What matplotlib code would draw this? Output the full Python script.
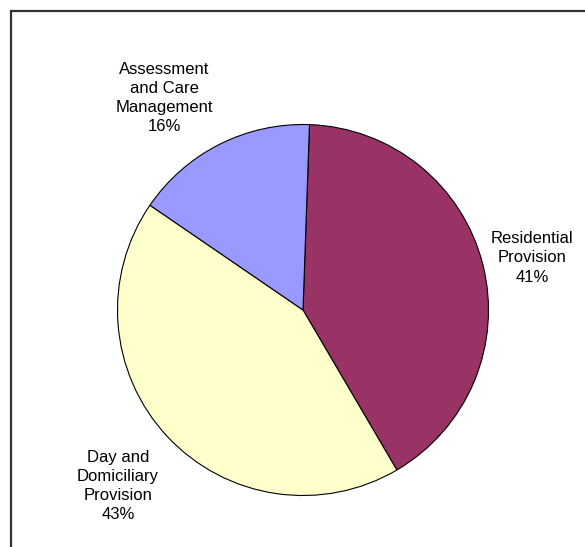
import matplotlib.pyplot as plt
from matplotlib.patches import Rectangle

plt.rcParams['font.family'] = ['Liberation Sans', 'DejaVu Sans']

# slices, clockwise from 12 o'clock
labels = ['Residential\nProvision', 'Day and\nDomiciliary\nProvision', 'Assessment\nand Care\nManagement']
shares = [41, 43, 16]
colors = ['#993366', '#FFFFCC', '#9999FF']
label_xy = [(532, 289), (118, 61), (164, 449)]

fig = plt.figure(figsize=(5.85, 5.47), dpi=100)
ax = fig.add_axes([0, 0, 1, 1])

# chart frame (cut off at right and bottom)
ax.add_patch(Rectangle((11, -20), 600, 547 - 11 + 20, fill=False,
                       edgecolor='#333333', linewidth=1.6))

ax.pie(shares, colors=colors, startangle=88, counterclock=False,
       center=(303, 237), radius=185.5, frame=True,
       wedgeprops=dict(edgecolor='black', linewidth=0.8))
ax.set_xlim(0, 585)
ax.set_ylim(0, 547)
ax.set_aspect('equal')
ax.axis('off')

total = sum(shares)
for lab, v, (x, y) in zip(labels, shares, label_xy):
    ax.text(x, y, f'{lab}\n{round(100 * v / total)}%', ha='center', va='center',
            fontsize=12, linespacing=1.35, color='black')

fig.savefig('out.png', dpi=100)
